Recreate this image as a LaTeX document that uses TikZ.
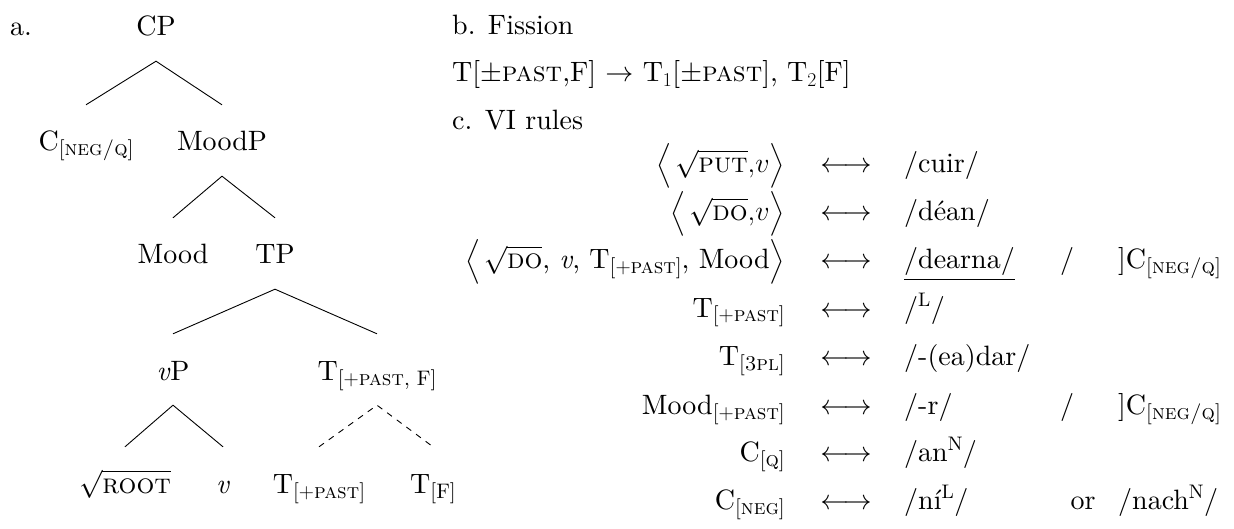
\RequirePackage{fix-cm}
\documentclass[tikz,border=0pt]{standalone}
\usepackage{amsmath}
\usepackage{fontspec}
\setmainfont{lmroman10-regular.otf}[ItalicFont=lmroman10-italic.otf, BoldFont=lmroman10-bold.otf, SmallCapsFont=lmromancaps10-regular.otf]
\newcommand\sub[1]{\raisebox{-5pt}{\fontsize{21}{21}\selectfont #1}}
\newcommand\scx[1]{\text{\textsc{#1}}}
\begin{document}
\begin{tikzpicture}[x=1pt,y=-1pt,
  every node/.style={font=\fontsize{28}{34}\selectfont, inner sep=0pt},
  tn/.style={anchor=base, text height=46pt, text depth=25pt},
  edge/.style={line width=0.9pt},
  dedge/.style={line width=0.9pt, dash pattern=on 6pt off 6pt},
  lt/.style={anchor=base west},
  rt/.style={anchor=base east},
  ct/.style={anchor=base}]
\useasboundingbox (0,0) rectangle (1234,529);
% ---- tree (a)
\node[lt] (a) at (10,36) {a.};
\node[tn] (cp) at (156,36) {CP};
\node[tn] (cneg) at (86,151) {C\sub{[\textsc{neg/q}]}};
\node[tn] (moodp) at (222,151) {MoodP};
\node[tn] (mood) at (173,264) {Mood};
\node[tn] (tp) at (275,264) {TP};
\node[tn] (vp) at (173,380) {\textit{v}P};
\node[tn] (tpf) at (377,380) {T\sub{[$+$\textsc{past}, F]}};
\node[tn] (root) at (125,493) {$\sqrt{\scx{root}}$};
\node[tn] (v) at (223,493) {\textit{v}};
\node[tn] (tpast) at (319,493) {T\sub{[$+$\textsc{past}]}};
\node[tn] (tf) at (433,493) {T\sub{[F]}};
\draw[edge] (cneg.north) -- (cp.south) -- (moodp.north);
\draw[edge] (mood.north) -- (moodp.south) -- (tp.north);
\draw[edge] (vp.north) -- (tp.south) -- (tpf.north);
\draw[edge] (root.north) -- (vp.south) -- (v.north);
\draw[dedge] (tpast.north) -- (tpf.south) -- (tf.north);
% ---- (b)
\node[lt] (b) at (452,35) {b. Fission};
\node[lt] (fis) at (452,82) {T[$\pm$\textsc{past},F] $\rightarrow$ T$_1$[$\pm$\textsc{past}], T$_2$[F]};
\node[lt] (c) at (452,130) {c. VI rules};
% ---- (c) VI rules
\node[rt] (l1) at (785,173) {$\bigl\langle\mkern2mu\sqrt{\scx{put}}{,}v\bigr\rangle$};
\node[rt] (l2) at (785,221) {$\bigl\langle\mkern2mu\sqrt{\scx{do}}{,}v\bigr\rangle$};
\node[rt] (l3) at (785,269) {$\bigl\langle\mkern2mu\sqrt{\scx{do}}$, \textit{v}, T\sub{[$+$\textsc{past}]}, Mood$\bigr\rangle$};
\node[rt] (l4) at (785,317) {T\sub{[$+$\textsc{past}]}};
\node[rt] (l5) at (785,365) {T\sub{[\textsc{3pl}]}};
\node[rt] (l6) at (785,414) {Mood\sub{[$+$\textsc{past}]}};
\node[rt] (l7) at (785,461) {C\sub{[\textsc{q}]}};
\node[rt] (l8) at (785,509) {C\sub{[\textsc{neg}]}};
\foreach \i/\y in {1/173,2/221,3/269,4/317,5/365,6/414,7/461,8/509}
  \node[ct] (ar\i) at (846,\y) {$\longleftrightarrow$};
\node[lt] (r1) at (904,173) {/cuir/};
\node[lt] (r2) at (904,221) {/d\'ean/};
\node[lt] (r3) at (904,269) {\underline{/dearna/}};
\node[lt] (r4) at (904,317) {/\textsuperscript{L}/};
\node[lt] (r5) at (904,365) {/-(ea)dar/};
\node[lt] (r6) at (904,414) {/-r/};
\node[lt] (r7) at (904,461) {/an\textsuperscript{N}/};
\node[lt] (r8) at (904,509) {/n\'{\i}\textsuperscript{L}/};
\node[ct] (s3) at (1067,269) {/};
\node[lt] (e3) at (1118,269) {]C\sub{[\textsc{neg/q}]}};
\node[ct] (s6) at (1067,414) {/};
\node[lt] (e6) at (1118,414) {]C\sub{[\textsc{neg/q}]}};
\node[ct] (or8) at (1083,509) {or};
\node[lt] (e8) at (1118,509) {/nach\textsuperscript{N}/};
\end{tikzpicture}
\end{document}
